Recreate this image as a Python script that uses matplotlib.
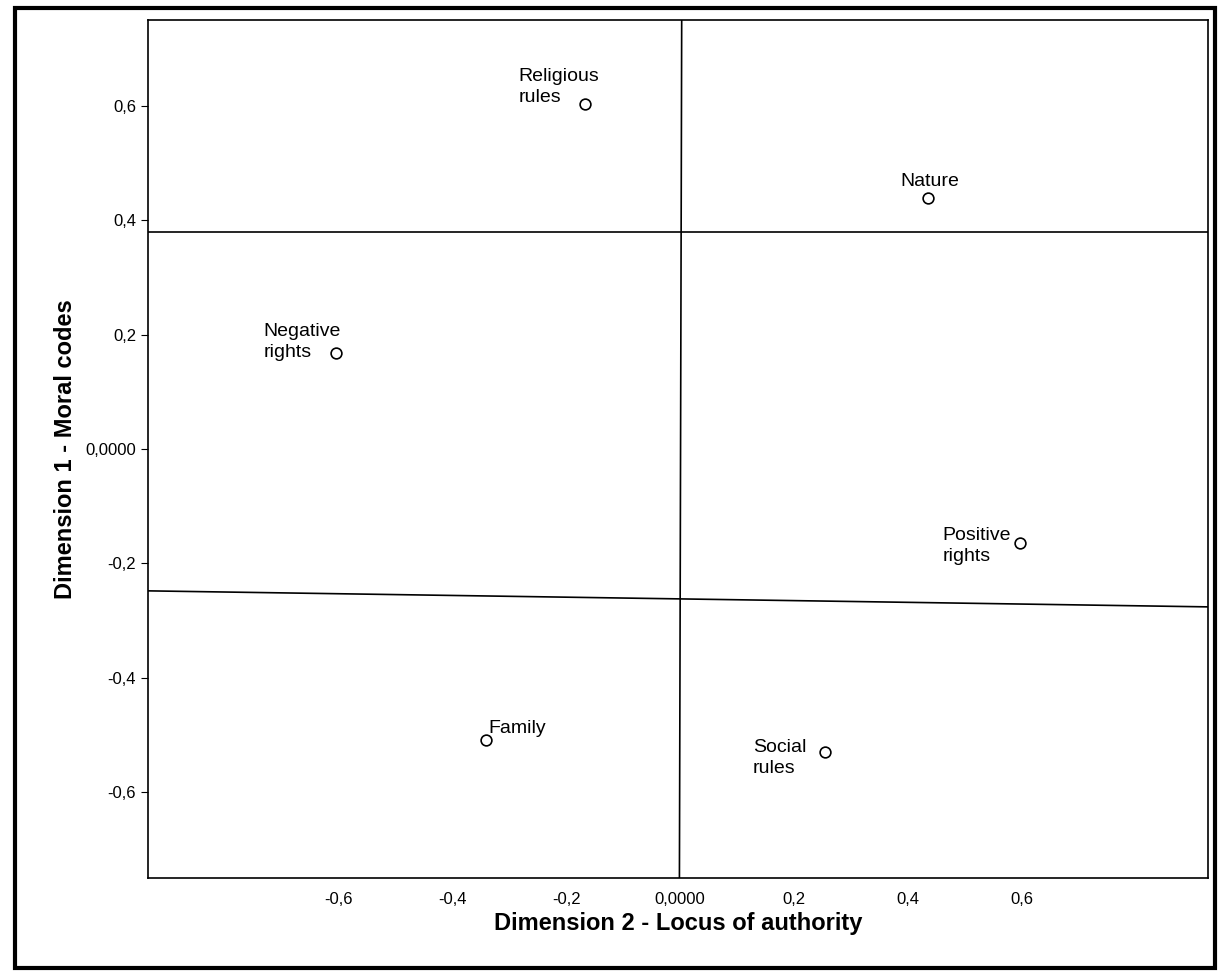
import matplotlib.pyplot as plt
from matplotlib.patches import Rectangle
from matplotlib.ticker import FuncFormatter

plt.rcParams["font.family"] = ["Liberation Sans", "DejaVu Sans"]

labels = ["Religious\nrules", "Nature", "Negative\nrights", "Positive\nrights", "Family", "Social\nrules"]
dim2 = [-0.167, 0.436, -0.605, 0.598, -0.341, 0.255]
dim1 = [0.604, 0.438, 0.168, -0.164, -0.508, -0.529]
# label offsets in points (text anchor relative to point)
offsets = [(-48, -2), (-20, 6), (-52, -6), (-56, -16), (2, 2), (-52, -18)]

hline_y = 0.379
vline_x = [0.003, -0.001]
slant_x = [-0.935, 0.928]
slant_y = [-0.248, -0.276]

fig = plt.figure(figsize=(12.25, 9.76), dpi=100)
fig.patches.append(Rectangle((15 / 1225, 8 / 976), 1200 / 1225, 960 / 976,
                             transform=fig.transFigure, fill=False, lw=3, ec="black"))
ax = fig.add_axes([148 / 1225, 98 / 976, 1060 / 1225, 858 / 976])

ax.scatter(dim2, dim1, s=60, facecolors="white", edgecolors="black", linewidths=1.2, zorder=3)
for lab, x, y, off in zip(labels, dim2, dim1, offsets):
    ax.annotate(lab, (x, y), xytext=off, textcoords="offset points",
                fontsize=14, ha="left", va="bottom", linespacing=1.3)

ax.axhline(hline_y, color="black", lw=1.2)
ax.plot(vline_x, [0.75, -0.75], color="black", lw=1.2)
ax.plot(slant_x, slant_y, color="black", lw=1.2)

ax.set_xlim(-0.935, 0.928)
ax.set_ylim(-0.75, 0.75)
ax.set_xticks([-0.6, -0.4, -0.2, 0.0, 0.2, 0.4, 0.6])
ax.set_yticks([-0.6, -0.4, -0.2, 0.0, 0.2, 0.4, 0.6])


def fmt(v, pos):
    if abs(v) < 1e-9:
        return "0,0000"
    return f"{v:.1f}".replace(".", ",")


ax.xaxis.set_major_formatter(FuncFormatter(fmt))
ax.yaxis.set_major_formatter(FuncFormatter(fmt))
ax.tick_params(axis="both", labelsize=12, length=5, direction="out")
ax.tick_params(axis="x", length=0, pad=10)
for s in ax.spines.values():
    s.set_linewidth(1.2)

ax.set_xlabel("Dimension 2 - Locus of authority", fontsize=17, fontweight="bold", labelpad=4)
ax.set_ylabel("Dimension 1 - Moral codes", fontsize=17, fontweight="bold", labelpad=6)

fig.savefig("out.png", dpi=100)
